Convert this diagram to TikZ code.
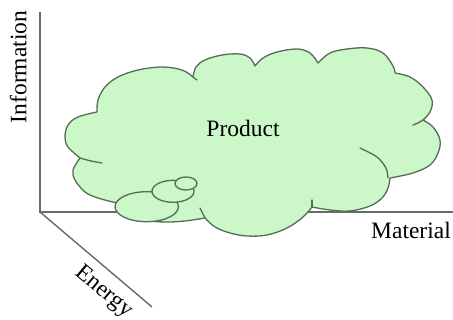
\documentclass[tikz,border=0pt]{standalone}
\usepackage{fontspec}
\setmainfont{Liberation Serif}
\definecolor{cloudfillc}{RGB}{204,247,200}
\definecolor{cloudline}{RGB}{85,108,85}
\definecolor{axisc}{RGB}{105,105,105}
\begin{document}
\begin{tikzpicture}[x=1pt,y=-1pt,
  cloud/.style={fill=cloudfillc,draw=cloudline,line width=1.3pt,line join=round},
  cusp/.style={draw=cloudline,line width=1.3pt,line cap=round},
  axis/.style={draw=axisc,line width=1.4pt},
  lbl/.style={font=\fontsize{23.5}{26}\selectfont,inner sep=0pt}]
\useasboundingbox (0,0) rectangle (453,320);
% axes
\coordinate (O) at (40,212);
\coordinate (I) at (40,12);
\coordinate (M) at (453,212);
\coordinate (E) at (152,307);
\draw[axis] (I) -- (O) -- (M);
\draw[axis] (O) -- (E);
% cloud
\path[cloud]
  plot[smooth,tension=0.6] coordinates {(80,158) (68,147) (65,137) (68,125) (78,117) (97,112)}
  -- plot[smooth,tension=0.6] coordinates {(97,112) (98,100) (105,87) (118,77) (138,70) (162,67) (182,70) (193,77)}
  -- plot[smooth,tension=0.6] coordinates {(193,77) (196,67) (205,60) (222,55) (240,54) (250,58) (255,66)}
  -- plot[smooth,tension=0.6] coordinates {(255,66) (263,58) (277,52) (297,49) (310,53) (318,63)}
  -- plot[smooth,tension=0.6] coordinates {(318,63) (330,53) (347,49) (367,48) (383,53) (393,66) (395,73)}
  -- plot[smooth,tension=0.6] coordinates {(395,73) (410,77) (423,87) (432,100) (430,112) (423,120)}
  -- plot[smooth,tension=0.6] coordinates {(423,120) (433,127) (440,140) (438,153) (430,165) (413,173) (390,178)}
  -- plot[smooth,tension=0.6] coordinates {(390,178) (388,188) (382,198) (370,206) (350,211) (330,210) (312,207)}
  -- plot[smooth,tension=0.6] coordinates {(312,207) (303,217) (287,228) (267,235) (247,236) (230,233) (215,227) (205,218)}
  -- plot[smooth,tension=0.6] coordinates {(205,218) (185,221) (165,222) (145,220) (125,212) (117,203)}
  -- plot[smooth,tension=0.6] coordinates {(117,203) (98,198) (85,192) (75,180) (73,170) (80,158)}
  -- cycle;
% inner cusp strokes
\draw[cusp] plot[smooth] coordinates {(80,158) (91,161) (102,163)};
\draw[cusp] (193,77) -- (197,80);
\draw[cusp] plot[smooth] coordinates {(423,120) (418,123) (413,125)};
\draw[cusp] plot[smooth] coordinates {(360,148) (377,157) (386,168) (388,178)};
\draw[cusp] (312,200) -- (312,207);
\draw[cusp] (200,208) -- (205,218);
% small ellipses
\draw[cloud] (146.7,206.7) ellipse [x radius=31.7pt, y radius=15pt];
\draw[cloud] (173,191.3) ellipse [x radius=21pt, y radius=11pt];
\draw[cloud] (186,183.5) ellipse [x radius=11pt, y radius=6.5pt];
% labels
\node[lbl] (product) at (243,128.5) {Product};
\node[lbl] (material) at (411,230) {Material};
\node[lbl,rotate=90] (information) at (18.3,67) {Information};
\node[lbl,rotate=-40] (energy) at (104,292) {Energy};
\end{tikzpicture}
\end{document}
